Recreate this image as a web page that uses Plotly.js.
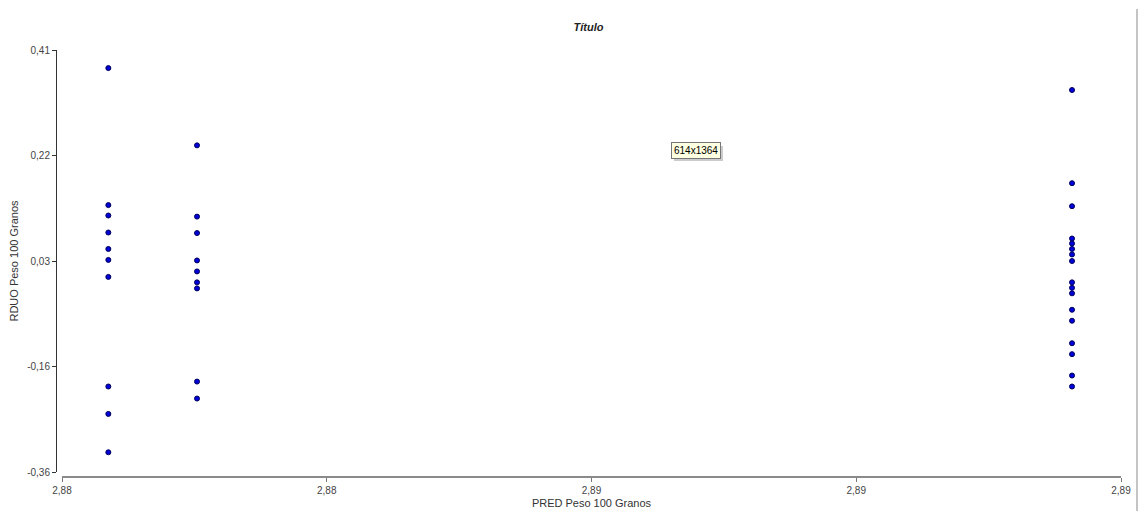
<!DOCTYPE html>
<html>
<head>
<meta charset="utf-8">
<script src="https://cdn.plot.ly/plotly-3.0.1.min.js"></script>
<style>html,body{margin:0;padding:0;background:#fff;}#chart{width:1138px;height:511px;}</style>
</head>
<body>
<div id="chart"></div>
<script>
// Data
const predX = [
  2.88135, 2.88135, 2.88135, 2.88135, 2.88135, 2.88135, 2.88135, 2.88135, 2.88135, 2.88135,
  2.88202, 2.88202, 2.88202, 2.88202, 2.88202, 2.88202, 2.88202, 2.88202, 2.88202,
  2.88863, 2.88863, 2.88863, 2.88863, 2.88863, 2.88863, 2.88863, 2.88863, 2.88863,
  2.88863, 2.88863, 2.88863, 2.88863, 2.88863, 2.88863, 2.88863, 2.88863
];
const rduoY = [
  0.377, 0.127, 0.108, 0.077, 0.047, 0.027, -0.004, -0.204, -0.254, -0.324,
  0.236, 0.106, 0.076, 0.026, 0.006, -0.014, -0.025, -0.195, -0.226,
  0.337, 0.167, 0.125, 0.066, 0.057, 0.047, 0.037, 0.025, -0.014,
  -0.024, -0.034, -0.064, -0.084, -0.125, -0.145, -0.184, -0.204
];
const xTickVals = [2.881, 2.883, 2.885, 2.887, 2.889];
const xTickText = ["2,88", "2,88", "2,89", "2,89", "2,89"];
const yTickVals = [0.41, 0.2175, 0.025, -0.1675, -0.36];
const yTickText = ["0,41", "0,22", "0,03", "-0,16", "-0,36"];
const chartTitle = "Título";
const xTitle = "PRED Peso 100 Granos";
const yTitle = "RDUO Peso 100 Granos";
const tipText = "614x1364";

const trace = {
  x: predX,
  y: rduoY,
  type: "scatter",
  mode: "markers",
  marker: {symbol: "circle", size: 5, color: "#0000d8", line: {color: "#00005a", width: 1}},
  hoverinfo: "x+y"
};

const layout = {
  width: 1138,
  height: 511,
  margin: {l: 56, r: 17, t: 50, b: 34},
  paper_bgcolor: "#ffffff",
  plot_bgcolor: "#ffffff",
  showlegend: false,
  font: {family: "Liberation Sans, Arial, sans-serif", size: 10, color: "#444"},
  title: {
    text: "<b><i>" + chartTitle + "</i></b>",
    font: {family: "Liberation Sans, Arial, sans-serif", size: 11, color: "#222"},
    x: 0.5, xref: "paper", y: 1 - 27 / 511, yref: "container", yanchor: "middle"
  },
  xaxis: {
    range: [2.881, 2.889],
    domain: [6 / 1065, 1],
    anchor: "free",
    position: 0,
    tickvals: xTickVals,
    ticktext: xTickText,
    ticks: "outside",
    ticklen: 4,
    tickcolor: "#777",
    showline: true,
    linecolor: "#8a8a8a",
    linewidth: 2,
    showgrid: false,
    zeroline: false,
    tickfont: {size: 10, color: "#444"},
    title: {text: xTitle, font: {size: 11, color: "#333"}, standoff: 3}
  },
  yaxis: {
    range: [-0.36, 0.41],
    domain: [5 / 427, 1],
    anchor: "free",
    position: 0,
    tickvals: yTickVals,
    ticktext: yTickText,
    ticks: "outside",
    ticklen: 4,
    tickcolor: "#333",
    showline: true,
    linecolor: "#333",
    linewidth: 1,
    showgrid: false,
    zeroline: false,
    tickfont: {size: 10, color: "#444"},
    title: {text: yTitle, font: {size: 11, color: "#333"}, standoff: 5}
  },
  shapes: [
    {type: "line", xref: "paper", yref: "paper",
     x0: (1137 - 56) / 1065, x1: (1137 - 56) / 1065,
     y0: (477 - 9) / 427, y1: (477 - 511) / 427,
     line: {color: "#b0b0b0", width: 1.5}},
    {type: "rect", xref: "paper", yref: "paper",
     x0: (674 - 56) / 1065, x1: (723 - 56) / 1065,
     y0: (477 - 161) / 427, y1: (477 - 146) / 427,
     fillcolor: "rgba(0,0,0,0.2)", line: {width: 0}}
  ],
  annotations: [
    {text: tipText, xref: "paper", yref: "paper",
     x: (695.5 - 56) / 1065, y: (477 - 150.5) / 427,
     xanchor: "center", yanchor: "middle",
     showarrow: false, bgcolor: "#ffffe1", bordercolor: "#767676", borderwidth: 1,
     borderpad: 2, font: {size: 10, color: "#000"}}
  ]
};

Plotly.newPlot("chart", [trace], layout, {displayModeBar: false, responsive: false});
</script>
</body>
</html>
